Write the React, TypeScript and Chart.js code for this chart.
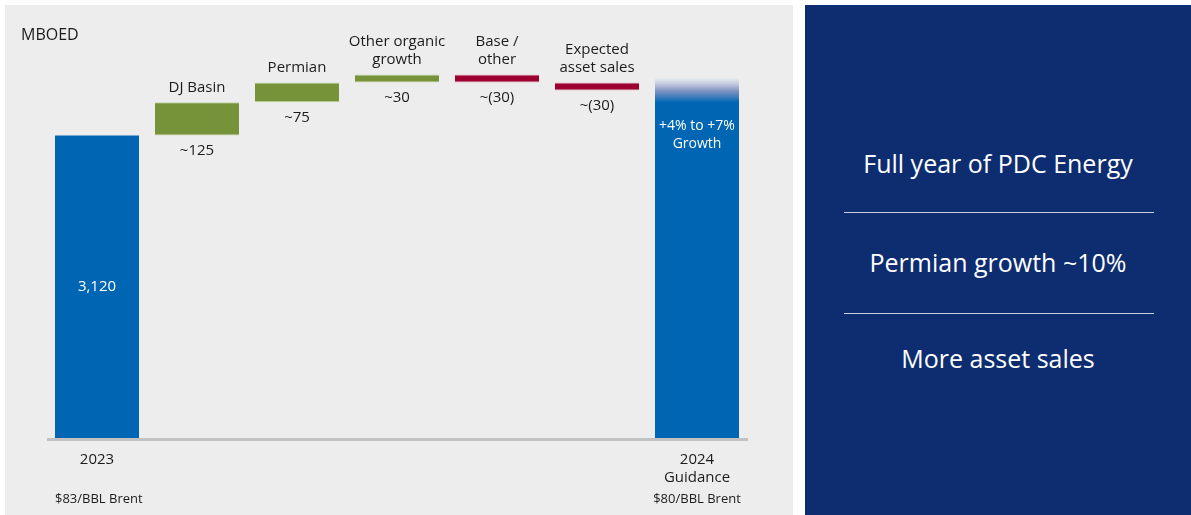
import React, { useEffect, useRef } from 'react';
import { Chart, registerables } from 'chart.js';

Chart.register(...registerables);

// ---- data ----
const categories = ['2023', 'DJ Basin', 'Permian', 'Other organic growth', 'Base / other', 'Expected asset sales', '2024 Guidance'];
const topLabels: string[][] = [[], ['DJ Basin'], ['Permian'], ['Other organic', 'growth'], ['Base /', 'other'], ['Expected', 'asset sales'], []];
const bottomLabels: string[][] = [['2023'], [], [], [], [], [], ['2024', 'Guidance']];
const priceLabels = ['$83/BBL Brent', '$80/BBL Brent'];
const start2023 = 3120;
const startLabel = '3,120';
const changes = [125, 75, 30, -30, -30];
const changeLabels = ['~125', '~75', '~30', '~(30)', '~(30)'];
const guidanceLow = 3245; // ~ +4%
const guidanceHigh = 3335; // ~ +7%
const guidanceLabel = ['+4% to +7%', 'Growth'];
const axisMin = 1980;
const axisMax = 3480;
const unitLabel = 'MBOED';
const panelItems = ['Full year of PDC Energy', 'Permian growth ~10%', 'More asset sales'];

const BLUE = '#0066b3';
const GREEN = '#76933a';
const GREEN_EDGE = '#c7d5a3';
const RED = '#9b0030';
const RED_EDGE = '#dba3b3';
const TEXT = '#1c1c1c';
const FONT = '"Open Sans", "DejaVu Sans", sans-serif';

function buildFloating(): [number, number][] {
  const out: [number, number][] = [[axisMin, start2023]];
  let level = start2023;
  changes.forEach((c) => {
    out.push([level, level + c]);
    level += c;
  });
  out.push([axisMin, guidanceHigh]);
  return out;
}

const annotPlugin = {
  id: 'annot',
  afterDraw(chart: any) {
    const { ctx, chartArea, scales } = chart;
    const meta = chart.getDatasetMeta(0);
    const n = categories.length;
    ctx.save();
    // axis line
    ctx.fillStyle = '#c2c2c2';
    ctx.fillRect(chartArea.left, chartArea.bottom, chartArea.right - chartArea.left + 1, 3);

    ctx.fillStyle = TEXT;
    ctx.textBaseline = 'middle';
    // unit label
    ctx.textAlign = 'left';
    ctx.font = `16px ${FONT}`;
    ctx.fillText(unitLabel, 16, 30);

    ctx.textAlign = 'center';
    for (let i = 0; i < n; i++) {
      const el = meta.data[i];
      const top = Math.min(el.y, el.base);
      const bottom = Math.max(el.y, el.base);
      ctx.fillStyle = TEXT;
      ctx.font = `15px ${FONT}`;
      const tl = topLabels[i];
      tl.forEach((t, k) => {
        ctx.fillText(t, el.x, top - 15 - (tl.length - 1 - k) * 18);
      });
      if (i > 0 && i < n - 1) {
        ctx.fillText(changeLabels[i - 1], el.x, bottom + 15);
      }
      bottomLabels[i].forEach((t, k) => {
        ctx.fillText(t, el.x, chartArea.bottom + 22 + k * 18);
      });
    }
    // inside labels
    ctx.fillStyle = '#ffffff';
    ctx.font = `15px ${FONT}`;
    const b0 = meta.data[0];
    ctx.fillText(startLabel, b0.x, (Math.min(b0.y, b0.base) + Math.max(b0.y, b0.base)) / 2);
    const bl = meta.data[n - 1];
    const yLow = scales.y.getPixelForValue(guidanceLow);
    ctx.font = `14px ${FONT}`;
    guidanceLabel.forEach((t, k) => ctx.fillText(t, bl.x, yLow + 24 + k * 18));

    // price labels
    ctx.fillStyle = TEXT;
    ctx.font = `13px ${FONT}`;
    ctx.textAlign = 'left';
    ctx.fillText(priceLabels[0], b0.x - b0.width / 2, chartArea.bottom + 61.5);
    ctx.textAlign = 'center';
    ctx.fillText(priceLabels[1], bl.x, chartArea.bottom + 61.5);
    ctx.restore();
  },
};

export default function App() {
  const ref = useRef<HTMLCanvasElement>(null);
  useEffect(() => {
    const n = categories.length;
    const chart = new Chart(ref.current as HTMLCanvasElement, {
      type: 'bar',
      data: {
        labels: categories,
        datasets: [
          {
            data: buildFloating() as any,
            barPercentage: 0.84,
            categoryPercentage: 1,
            borderSkipped: false,
            backgroundColor: (ctx: any) => {
              const i = ctx.dataIndex;
              if (i === 0) return BLUE;
              if (i === n - 1) {
                const ch = ctx.chart;
                if (!ch.chartArea) return BLUE;
                const yTop = ch.scales.y.getPixelForValue(guidanceHigh);
                const yLow = ch.scales.y.getPixelForValue(guidanceLow);
                const g = ch.ctx.createLinearGradient(0, yTop, 0, yLow);
                g.addColorStop(0, 'rgba(225,230,240,0.6)');
                g.addColorStop(0.5, 'rgba(120,140,190,0.9)');
                g.addColorStop(1, BLUE);
                return g;
              }
              return changes[i - 1] >= 0 ? GREEN : RED;
            },
            borderColor: (ctx: any) => {
              const i = ctx.dataIndex;
              if (i === 0 || i === n - 1) return BLUE;
              return changes[i - 1] >= 0 ? GREEN_EDGE : RED_EDGE;
            },
            borderWidth: (ctx: any) => {
              const i = ctx.dataIndex;
              if (i === 0 || i === n - 1) return 0;
              return { top: 1, bottom: 1, left: 0, right: 0 };
            },
          } as any,
        ],
      },
      options: {
        responsive: false,
        devicePixelRatio: 1,
        animation: false,
        layout: { padding: { left: 42, right: 46, top: 35, bottom: 77 } },
        plugins: { legend: { display: false }, tooltip: { enabled: false } },
        scales: {
          x: { display: false },
          y: { display: false, min: axisMin, max: axisMax },
        },
      },
      plugins: [annotPlugin],
    });
    return () => chart.destroy();
  }, []);

  const lineStyle = (top: number): React.CSSProperties => ({
    position: 'absolute',
    left: 39,
    top,
    width: 310,
    height: 1,
    background: '#c9cfe0',
  });
  const textStyle = (center: number): React.CSSProperties => ({
    position: 'absolute',
    left: 0,
    width: 386,
    top: center - 17,
    height: 34,
    lineHeight: '34px',
    textAlign: 'center',
    color: '#ffffff',
    fontSize: 25,
    fontWeight: 400,
    fontFamily: FONT,
    whiteSpace: 'nowrap',
  });

  return (
    <div style={{ position: 'fixed', left: 0, top: 0, width: 1191, height: 515, background: '#ffffff', overflow: 'hidden' }}>
      <div style={{ position: 'absolute', left: 5, top: 5, width: 788, height: 510, background: '#ededed' }}>
        <canvas ref={ref} width={788} height={510} style={{ display: 'block', width: 788, height: 510 }} />
      </div>
      <div style={{ position: 'absolute', left: 805, top: 5, width: 386, height: 510, background: '#0d2d70' }}>
        <div style={textStyle(158)}>{panelItems[0]}</div>
        <div style={lineStyle(207)} />
        <div style={textStyle(257)}>{panelItems[1]}</div>
        <div style={lineStyle(308)} />
        <div style={textStyle(353)}>{panelItems[2]}</div>
      </div>
    </div>
  );
}
